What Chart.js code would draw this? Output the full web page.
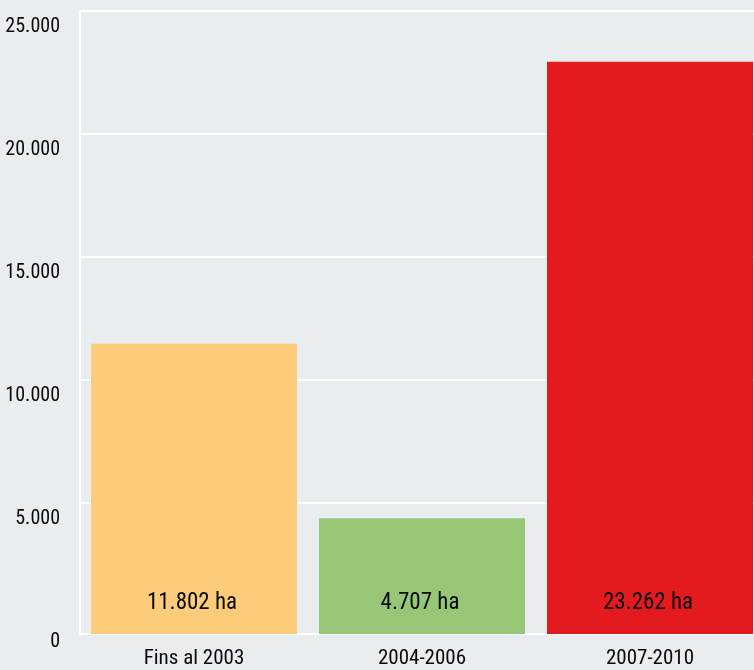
<!DOCTYPE html>
<html>
<head>
<meta charset="utf-8">
<script src="https://cdn.jsdelivr.net/npm/chart.js@4/dist/chart.umd.min.js"></script>
<style>
  html, body { margin: 0; padding: 0; background: #e9edf0; overflow: hidden; }
  #wrap { width: 764px; height: 670px; }
</style>
</head>
<body>
<div id="wrap"><canvas id="c" width="764" height="670"></canvas></div>
<script>
const categories = ['Fins al 2003', '2004-2006', '2007-2010'];
const areaHa = [11802, 4707, 23262];
const barColors = ['#fccc7a', '#97c677', '#e31b1e'];
const yTickValues = [0, 5000, 10000, 15000, 20000, 25000];
const unitLabel = 'ha';

const FONT = "'Roboto Condensed', 'DejaVu Sans Condensed', sans-serif";
const TEXT = '#0a0a0a';

function fmt(v) {
  return String(Math.round(v)).replace(/\B(?=(\d{3})+(?!\d))/g, '.');
}

const barLabels = {
  id: 'barLabels',
  afterDatasetsDraw(chart) {
    const ctx = chart.ctx;
    const meta = chart.getDatasetMeta(0);
    const ys = chart.scales.y;
    ctx.save();
    ctx.font = '23px ' + FONT;
    ctx.fillStyle = TEXT;
    ctx.textAlign = 'center';
    ctx.textBaseline = 'middle';
    meta.data.forEach((bar, i) => {
      ctx.fillText(fmt(areaHa[i]) + ' ' + unitLabel, bar.x - 2, ys.bottom - 31);
    });
    ctx.restore();
  }
};

function noPad(s) { s.paddingTop = 0; s.paddingBottom = 0; }

new Chart(document.getElementById('c'), {
  type: 'bar',
  data: {
    labels: categories,
    datasets: [{
      data: areaHa,
      backgroundColor: barColors,
      borderWidth: 0,
      barPercentage: 0.9035,
      categoryPercentage: 1.0,
      yAxisID: 'y'
    }]
  },
  options: {
    responsive: false,
    animation: false,
    devicePixelRatio: 1,
    layout: { padding: { top: 11, left: 0, right: 0, bottom: 0 } },
    plugins: { legend: { display: false }, tooltip: { enabled: false } },
    scales: {
      x: {
        type: 'category',
        offset: true,
        grid: { display: false },
        border: { display: true, color: '#ffffff', width: 2 },
        ticks: { color: TEXT, font: { family: FONT, size: 21 }, padding: 4, maxRotation: 0 },
        afterFit(s) { s.height = 36; s.paddingLeft = 0; s.paddingRight = 0; }
      },
      y: {
        type: 'linear',
        position: 'left',
        min: 0,
        max: 25325,
        grid: { display: false },
        border: { display: true, color: '#ffffff', width: 2 },
        afterBuildTicks(s) { s.ticks = yTickValues.map(v => ({ value: v })); },
        ticks: {
          color: TEXT,
          font: { family: FONT, size: 20 },
          padding: 12,
          labelOffset: 8,
          callback: (v) => fmt(v)
        },
        afterFit(s) { s.width = 80; noPad(s); }
      },
      y2: {
        type: 'linear',
        position: 'left',
        min: -325,
        max: 25000,
        grid: { color: '#ffffff', lineWidth: 2, drawTicks: false },
        border: { display: false },
        afterBuildTicks(s) { s.ticks = yTickValues.filter(v => v > 0).map(v => ({ value: v })); },
        ticks: { display: false },
        afterFit(s) { s.width = 0; noPad(s); }
      }
    }
  },
  plugins: [barLabels]
});
</script>
</body>
</html>
